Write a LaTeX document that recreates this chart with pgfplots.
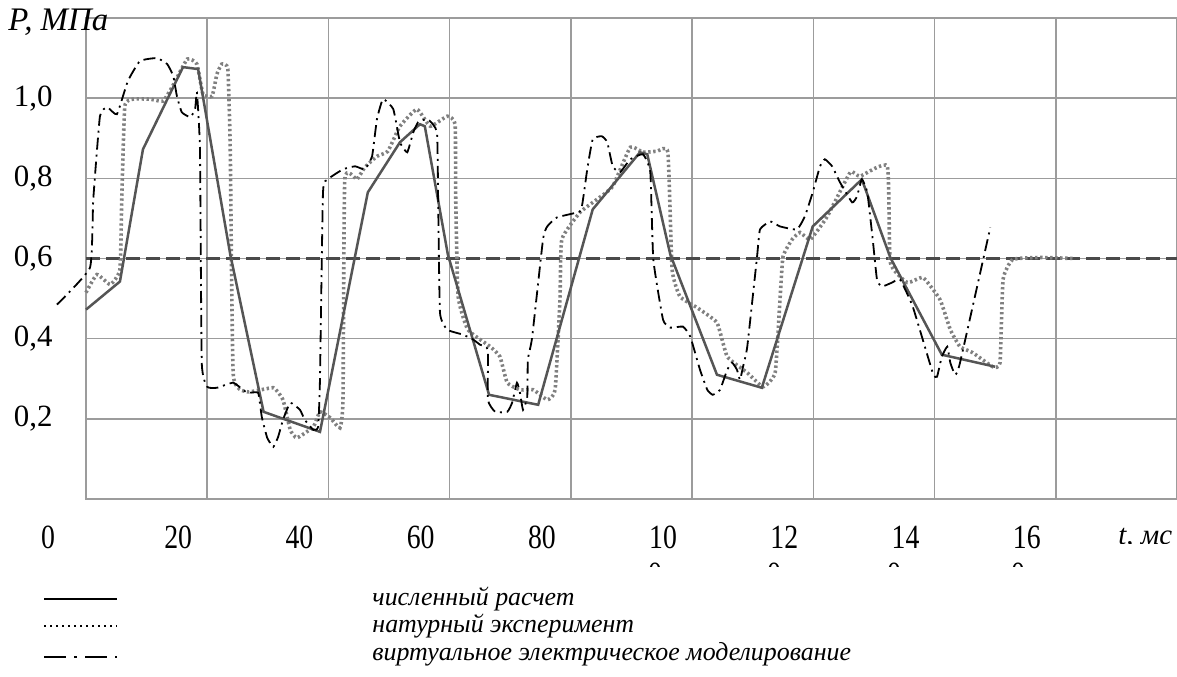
\documentclass[border=0pt]{standalone}
\usepackage{fontspec}
\setmainfont{Liberation Serif}
\usepackage{graphicx}
\usepackage{pgfplots}
\pgfplotsset{compat=1.18}

\definecolor{gridgray}{HTML}{9C9C9C}
\definecolor{calcgray}{HTML}{555555}
\definecolor{expgray}{HTML}{808080}
\definecolor{refgray}{HTML}{4A4A4A}

% condensed digits of the time axis
\newcommand{\xl}[1]{\scalebox{0.82}[1]{#1}}

\begin{document}
\begin{tikzpicture}
\path[use as bounding box] (0bp,0bp) rectangle (588.5bp,338.5bp);
\begin{axis}[
  at={(43bp,89bp)}, anchor=south west,
  scale only axis, width=545.5bp, height=240.5bp,
  xmin=0, xmax=180, ymin=0, ymax=1.2,
  clip=false,
  axis line style={gridgray, line width=0.75bp},
  grid=major, grid style={gridgray, line width=0.75bp},
  major tick length=0pt,
  xtick={0,20,40,60,80,100,120,140,160,180},
  xticklabels={\xl{0}\hspace*{9bp},\xl{20},\xl{40},\xl{60},\xl{80},\xl{10},\xl{12},\raisebox{1.5bp}{\xl{14}},\xl{16},{}},
  ytick={0,0.2,0.4,0.6,0.8,1.0,1.2},
  yticklabels={{},{0,2},{0,4},{0,6},{0,8},{1,0},{}},
  xticklabel style={font=\fontsize{17}{19}\selectfont, anchor=north, inner sep=0pt, xshift=-14.5bp, yshift=-13.5bp},
  yticklabel style={font=\fontsize{15.5}{18}\selectfont, anchor=east, inner sep=0pt, xshift=-16.5bp},
]
% reference level 0,6 MPa
\addplot[refgray, line width=1.25bp, dash pattern=on 7bp off 3bp] coordinates {(0,0.6) (180,0.6)};

% full-scale experiment
\addplot[expgray, line width=1.8bp, dash pattern=on 1.2bp off 1.3bp, smooth, tension=0.25] coordinates {
(0,0.515) (1.8,0.56) (4.0,0.535) (5.6,0.5725) (5.9,0.7475) (6.4,0.98) (7.8,0.9975)
(10.6,0.9975) (12.7,0.9925) (14.2,1.0275) (16.7,1.0975) (18.3,1.085) (19.3,1.01)
(20.8,1.005) (21.6,1.06) (22.4,1.085) (23.4,1.0725) (23.8,0.8725) (24.3,0.31)
(26.6,0.2675) (30.9,0.2775) (32.5,0.2475) (33.7,0.1725) (34.8,0.1525) (37.5,0.18)
(38.6,0.2175) (40.3,0.2025) (41.9,0.1775) (42.4,0.2475) (42.7,0.7975) (44.7,0.7975)
(46.0,0.8275) (48.0,0.855) (49.8,0.8675) (51.8,0.93) (54.6,0.9725) (56.8,0.93)
(59.6,0.955) (60.9,0.935) (61.0,0.7475) (61.4,0.505) (63.0,0.4225) (66.7,0.38)
(68.3,0.355) (69.5,0.29) (71.6,0.2725) (73.8,0.2725) (76.1,0.2475) (77.4,0.2725)
(78.2,0.4975) (78.5,0.6475) (81.5,0.715) (84.3,0.7475) (86.9,0.78) (89.8,0.8775)
(91.9,0.865) (94.2,0.8675) (96.0,0.865) (96.7,0.5725) (98.0,0.505) (100.8,0.4775)
(104.1,0.44) (105.8,0.355) (109.1,0.315) (111.7,0.28) (113.7,0.315) (114.5,0.4975)
(115.0,0.605) (116.5,0.6475) (117.8,0.665) (119.5,0.6475) (122.3,0.705) (126.1,0.815)
(127.7,0.805) (132.2,0.83) (132.7,0.59) (135.5,0.54) (138.1,0.5525) (140.9,0.4975)
(142.6,0.4225) (144.2,0.38) (146.3,0.365) (149.6,0.33) (150.8,0.34) (151.3,0.5475)
(152.9,0.5975) (157.4,0.6025) (163.0,0.60)
};

% numerical calculation
\addplot[calcgray, line width=1.25bp] coordinates {
(0,0.4725) (5.6,0.5425) (9.4,0.8725) (16.0,1.0775) (18.5,1.0725) (23.8,0.61)
(29.3,0.2175) (38.6,0.1675) (46.5,0.765) (51.8,0.89) (55.1,0.935) (55.9,0.93)
(59.7,0.61) (66.5,0.26) (74.6,0.235) (83.6,0.7225) (91.4,0.865) (92.6,0.86)
(96.4,0.61) (104.1,0.31) (111.5,0.2775) (119.9,0.68) (128.0,0.7975) (132.7,0.6025)
(141.2,0.36) (150.0,0.33)
};

% virtual electrical modelling
\addplot[black, line width=0.9bp, dash pattern=on 6bp off 2.5bp on 1bp off 2.5bp, smooth, tension=0.25] coordinates {
(-4.8,0.485) (0.66,0.5775) (1.2,0.7475) (2.3,0.955) (3.5,0.9775) (5.1,0.96)
(6.9,1.0425) (8.9,1.0925) (11.7,1.1) (13.4,1.085) (14.4,1.055) (15.0,1.005)
(15.8,0.965) (17.2,0.9525) (18.0,0.9725) (18.3,1.015) (18.8,0.8725) (19.1,0.34)
(20.0,0.28) (21.6,0.2775) (24.3,0.29) (26.6,0.265) (28.4,0.265) (29.0,0.205)
(29.9,0.1525) (30.9,0.13) (31.7,0.155) (32.5,0.1975) (33.7,0.24) (35.3,0.2225)
(36.1,0.1975) (37.5,0.1725) (38.3,0.18) (38.6,0.2975) (39.1,0.765) (39.9,0.7975)
(42.4,0.8225) (44.4,0.83) (46.0,0.8225) (47.2,0.855) (48.0,0.9475) (49.0,0.9975)
(50.7,0.9725) (51.8,0.89) (53.0,0.865) (54.0,0.915) (54.8,0.94) (56.4,0.9475)
(57.9,0.915) (58.1,0.7475) (58.4,0.465) (59.6,0.4225) (62.2,0.41) (63.9,0.3975)
(65.0,0.385) (66.3,0.3725) (66.3,0.2475) (67.5,0.2175) (69.5,0.2175) (70.3,0.24)
(71.1,0.29) (71.6,0.265) (72.1,0.2225) (72.8,0.255) (72.9,0.3475) (73.6,0.4025)
(75.4,0.6475) (76.1,0.68) (77.7,0.7025) (81.5,0.7175) (82.0,0.7475) (82.7,0.8225)
(83.6,0.8975) (85.1,0.905) (86.0,0.89) (86.9,0.83) (88.1,0.815) (89.8,0.8475)
(91.9,0.86) (93.1,0.815) (93.6,0.5975) (95.2,0.4475) (96.4,0.4275) (98.5,0.43)
(99.7,0.405) (101.3,0.3225) (102.5,0.2725) (103.4,0.26) (104.6,0.2725) (105.8,0.3225)
(106.6,0.34) (107.4,0.3225) (107.9,0.2975) (108.4,0.33) (109.1,0.38) (110.7,0.6025)
(111.2,0.6725) (112.9,0.6925) (114.5,0.68) (117.3,0.6725) (118.6,0.705) (119.9,0.765)
(121.1,0.83) (121.9,0.8475) (123.1,0.83) (124.4,0.79) (126.4,0.74) (127.2,0.755)
(128.0,0.7975) (128.9,0.765) (129.8,0.6475) (130.5,0.5475) (131.3,0.53) (133.0,0.54)
(134.3,0.5475) (136.4,0.48) (139.7,0.315) (140.4,0.305) (141.2,0.355) (142.1,0.38)
(142.6,0.34) (143.4,0.31) (144.2,0.34) (149.2,0.6775)
};
\end{axis}

% axis title
\node[anchor=base west, inner sep=0pt, font=\fontsize{16.5}{19}\selectfont\itshape] at (4bp,323bp) {P, МПа};

% time axis name, its lower part cut by the frame
\begin{scope}
\clip (540bp,66.5bp) rectangle (588.5bp,80bp);
\node[anchor=base west, inner sep=0pt, font=\fontsize{14.5}{17}\selectfont\itshape] at (559bp,66bp) {t, мс};
\end{scope}

% second lines of the three-digit labels, cut off
\begin{scope}
\clip (300bp,55bp) rectangle (588.5bp,62bp);
\foreach \cx in {327.5,387,447,509}
  \node[anchor=north, inner sep=0pt, font=\fontsize{17}{19}\selectfont] at (\cx bp,57bp) {\xl{0}};
\end{scope}

% legend
\draw[black, line width=1.25bp] (22bp,39bp) -- (58.5bp,39bp);
\draw[black, line width=1bp, dash pattern=on 1bp off 2bp] (22bp,25.5bp) -- (58.5bp,25.5bp);
\draw[black, line width=1.25bp, dash pattern=on 11bp off 4bp on 1.5bp off 4bp] (22bp,10bp) -- (58.5bp,10bp);
\begin{scope}[every node/.style={anchor=base west, inner sep=0pt, font=\fontsize{13}{15}\selectfont\itshape}]
\node at (186bp,36bp) {численный расчет};
\node at (186bp,22.5bp) {натурный эксперимент};
\node at (186bp,8.5bp) {виртуальное электрическое моделирование};
\end{scope}
\end{tikzpicture}
\end{document}
